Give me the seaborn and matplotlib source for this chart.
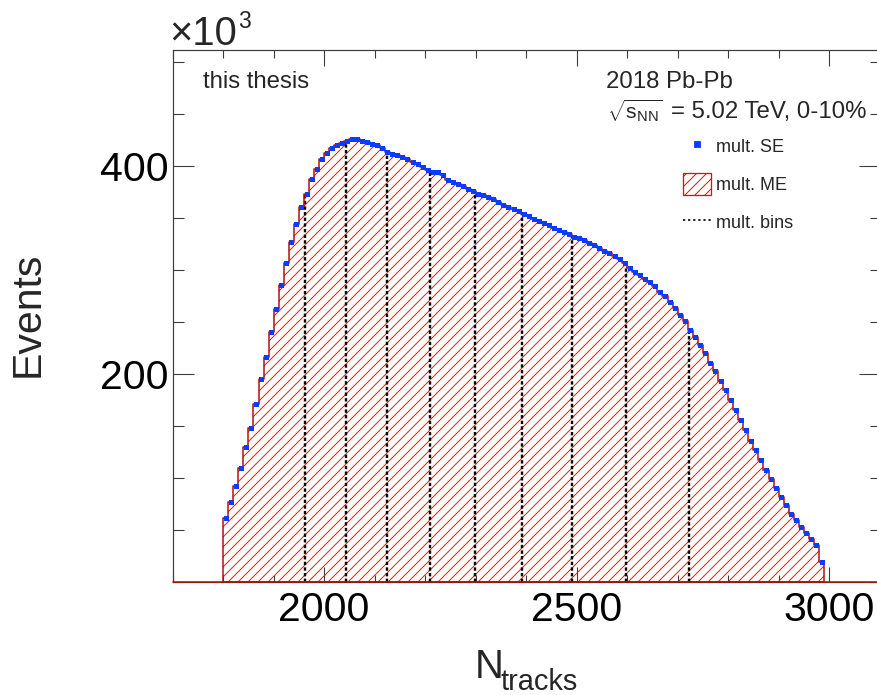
import numpy as np
import pandas as pd
import matplotlib
matplotlib.use("Agg")
import matplotlib.pyplot as plt
from matplotlib.lines import Line2D
from matplotlib.patches import Patch
from matplotlib.ticker import FixedLocator, MultipleLocator, NullFormatter
import seaborn as sns

# ---- data: track multiplicity, 0-10% central Pb-Pb (counts in units of 10^3) ----
bin_low = 1800
bin_width = 10
counts_k = [
    61.8, 76.6, 92.6, 109.9, 130.1, 148.4, 171.4, 195.2, 216.6, 240.7,
    262.5, 286.3, 307.4, 327.2, 344.5, 360.9, 373.8,
    388.0, 397.8, 407.4, 413.2, 417.6, 420.9, 422.8, 424.3, 426.0, 426.5,
    424.5, 423.0, 421.2, 420.2, 417.6, 413.8, 411.5, 410.6, 409.0, 407.4,
    404.1, 401.9, 399.4, 396.8, 394.5, 394.8, 391.3, 387.2, 384.9, 382.7,
    380.8, 378.6, 376.3, 373.8, 372.1, 370.5, 368.3, 365.7, 363.2, 360.9,
    359.3, 356.7,
    354.0, 352.2, 349.8, 347.6, 345.8, 343.5, 341.0, 338.8, 336.8, 334.5,
    332.5, 330.6, 328.8, 326.6, 324.5, 321.5, 318.6, 316.5, 313.8, 311.0,
    307.0, 302.5, 298.5, 295.0, 291.8, 288.5, 284.5, 279.5, 275.0, 269.5,
    263.5, 257.0, 251.5, 243.0, 235.5, 228.0, 220.5, 211.0, 203.5, 193.5,
    185.0, 174.8, 165.5, 155.8, 146.0, 136.0, 127.0, 117.5, 108.0, 99.0,
    90.5, 81.5, 74.0, 65.8, 59.3, 52.8, 46.8, 41.5, 35.5, 19.0,
]
mult_bin_edges = [1962, 2044, 2125, 2209, 2299, 2391, 2491, 2598, 2723]
x_range = (1700, 3100)
y_range = (0, 512)
x_major_ticks = [2000, 2500, 3000]
y_major_ticks = [200, 400]
legend_labels = ["mult. SE", "mult. ME", "mult. bins"]
energy_symbol = r"$\sqrt{\mathregular{s}_{\mathregular{NN}}}$"
energy_text = "= 5.02 TeV, 0-10%"
system_text = "2018 Pb-Pb"

counts_k = np.asarray(counts_k)
bin_edges = bin_low + bin_width * np.arange(len(counts_k) + 1)
bin_centers = 0.5 * (bin_edges[:-1] + bin_edges[1:])
hist_df = pd.DataFrame({"ntracks": bin_centers, "events_k": counts_k})
edge_list = [float(e) for e in bin_edges]

# ---- canvas ----
W, H, DPI = 877, 695, 60


def pt(px):
    return px * 72.0 / DPI


sns.set_theme(style="ticks")
plt.rcParams["font.family"] = ["Liberation Sans", "DejaVu Sans"]
plt.rcParams["mathtext.fontset"] = "custom"
plt.rcParams["mathtext.rm"] = "Liberation Sans"
plt.rcParams["mathtext.it"] = "Liberation Sans:italic"
plt.rcParams["mathtext.bf"] = "Liberation Sans:bold"
plt.rcParams["hatch.linewidth"] = 1.15
plt.rcParams["hatch.color"] = "#f01414"

DARK_RED = "#b00c0c"
HATCH_RED = "#f01414"
BLUE = "#0a3cff"
FRAME = "#3c3c3c"

fig = plt.figure(figsize=(W / DPI, H / DPI), dpi=DPI)
fig.patch.set_facecolor("white")
ax_left, ax_right, ax_top, ax_bottom = 172.7, 879.6, 50.0, 582.0
ax = fig.add_axes([ax_left / W, 1 - ax_bottom / H,
                   (ax_right - ax_left) / W, (ax_bottom - ax_top) / H])
ax.set_facecolor("white")

# mixed-event histogram: hatched fill
sns.histplot(data=hist_df, x="ntracks", weights="events_k", bins=edge_list,
             element="step", fill=True, ax=ax, legend=False)
hatch_poly = ax.collections[-1]
hatch_poly.set_facecolor("none")
hatch_poly.set_edgecolor(HATCH_RED)
hatch_poly.set_linewidth(0)
hatch_poly.set_hatch("//")
hatch_poly.set_zorder(1)

# multiplicity-class boundaries, drawn up to the histogram height
idx = np.searchsorted(bin_edges, mult_bin_edges, side="right") - 1
ax.vlines(mult_bin_edges, 0, counts_k[idx], colors="black",
          linestyles=(0, (1.4, 0.95)), linewidth=pt(2.4), zorder=2)

# histogram outline
sns.histplot(data=hist_df, x="ntracks", weights="events_k", bins=edge_list,
             element="step", fill=True, ax=ax, legend=False)
outline = ax.collections[-1]
outline.set_facecolor("none")
outline.set_edgecolor(DARK_RED)
outline.set_linewidth(pt(1.5))
outline.set_zorder(3)
ax.axhline(0, color=DARK_RED, linewidth=pt(1.5), zorder=3, clip_on=False)

# same-event points
sns.scatterplot(data=hist_df, x="ntracks", y="events_k", marker="s",
                s=pt(5.0) ** 2, color=BLUE, edgecolor=BLUE, linewidth=0,
                ax=ax, zorder=4, legend=False)

# ---- axes ----
ax.set_xlim(*x_range)
ax.set_ylim(*y_range)
ax.set_xlabel("")
ax.set_ylabel("")
ax.xaxis.set_major_locator(FixedLocator(x_major_ticks))
ax.xaxis.set_minor_locator(MultipleLocator(100))
ax.yaxis.set_major_locator(FixedLocator(y_major_ticks))
ax.yaxis.set_minor_locator(MultipleLocator(50))
ax.xaxis.set_minor_formatter(NullFormatter())
ax.yaxis.set_minor_formatter(NullFormatter())
ax.tick_params(axis="both", which="both", direction="in", top=True, right=True,
               colors=FRAME, width=pt(1.1), labelcolor="black",
               labelsize=pt(41))
ax.tick_params(axis="x", which="major", length=pt(15.5), pad=pt(9))
ax.tick_params(axis="x", which="minor", length=pt(7.5))
ax.tick_params(axis="y", which="major", length=pt(21), pad=pt(4.5))
ax.tick_params(axis="y", which="minor", length=pt(10.5))
for sp in ax.spines.values():
    sp.set_color(FRAME)
    sp.set_linewidth(pt(1.2))
    sp.set_visible(True)


def ftext(x_px, y_px, s, size_px, **kw):
    kw.setdefault("ha", "left")
    kw.setdefault("va", "baseline")
    return fig.text(x_px / W, 1 - y_px / H, s, fontsize=pt(size_px), **kw)


# axis titles
ftext(28, 314, "Events", 41, ha="center", va="center", rotation=90)
ftext(475, 678.3, "N", 40)
ftext(500.5, 690.5, "tracks", 29)

# exponent marker
ftext(169.5, 45, "\u00d710", 40)
ftext(238.5, 28.5, "3", 23)

# annotations
ftext(203, 88.3, "this thesis", 24)
ftext(606.5, 88.3, system_text, 24)
ftext(607, 118.3, energy_symbol, 21)
ftext(866.5, 118.3, energy_text, 24, ha="right")

# legend
handles = [
    Line2D([], [], marker="s", linestyle="none", color=BLUE,
           markersize=pt(5.5)),
    Patch(facecolor="none", edgecolor="#d01414", hatch="//",
          linewidth=pt(1.3)),
    Line2D([], [], color="black", linestyle=(0, (1.3, 1.7)),
           linewidth=pt(1.7)),
]
fs_leg = 18
ax.legend(handles, legend_labels, loc="upper left",
          bbox_to_anchor=(683 / W, 1 - 135.5 / H),
          bbox_transform=fig.transFigure, frameon=False,
          prop={"size": pt(fs_leg)}, handlelength=28 / fs_leg,
          handleheight=27 / fs_leg, handletextpad=5 / fs_leg,
          labelspacing=0.88, borderpad=0, borderaxespad=0)

fig.savefig("out.png", dpi=DPI)
